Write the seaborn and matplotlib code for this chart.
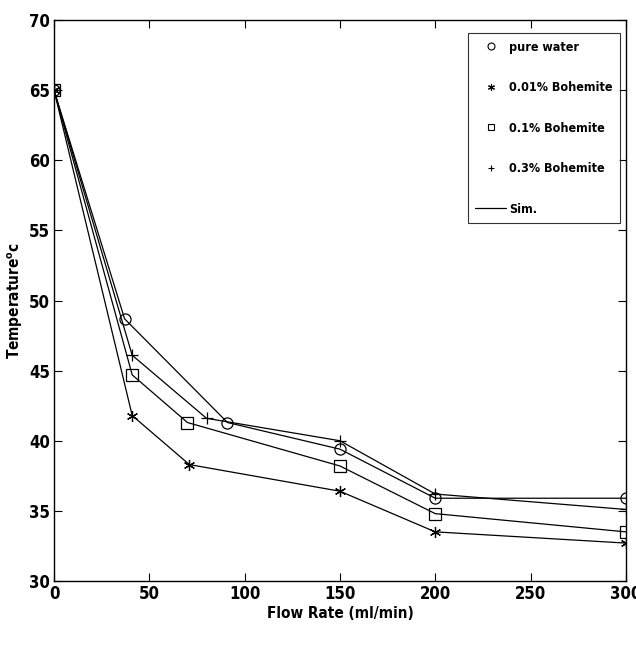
import numpy as np
import pandas as pd
import matplotlib
matplotlib.use('Agg')
import matplotlib.pyplot as plt
from matplotlib.lines import Line2D
import seaborn as sns

# values
pure_x = [0, 37, 91, 150, 200, 300]
pure_y = [65.0, 48.7, 41.3, 39.4, 35.9, 35.9]

b001_x = [0, 41, 71, 150, 200, 300]
b001_y = [65.0, 41.8, 38.3, 36.4, 33.5, 32.7]

b01_x = [0, 41, 70, 150, 200, 300]
b01_y = [65.0, 44.7, 41.3, 38.2, 34.8, 33.5]

b03_x = [0, 41, 80, 150, 200, 300]
b03_y = [65.0, 46.1, 41.6, 40.0, 36.2, 35.1]

series_names = ['pure water', '0.01% Bohemite', '0.1% Bohemite', '0.3% Bohemite']
series_markers = ['o', (6, 2, 0), 's', '+']
x_ticks = [0, 50, 100, 150, 200, 250, 300]
y_ticks = [30, 35, 40, 45, 50, 55, 60, 65, 70]

frames = []
for name, xs, ys in zip(series_names,
                        [pure_x, b001_x, b01_x, b03_x],
                        [pure_y, b001_y, b01_y, b03_y]):
    frames.append(pd.DataFrame({'flow': xs, 'temp': ys, 'series': name}))
df = pd.concat(frames, ignore_index=True)

sns.set_style('ticks')
plt.rcParams['font.family'] = ['DejaVu Sans']
plt.rcParams['font.stretch'] = 'condensed'
plt.rcParams['font.weight'] = 'bold'
plt.rcParams['text.color'] = 'black'
plt.rcParams['xtick.color'] = 'black'
plt.rcParams['ytick.color'] = 'black'
plt.rcParams['axes.labelcolor'] = 'black'

fig = plt.figure(figsize=(6.36, 6.52), dpi=100)
ax = fig.add_axes([0.085, 0.109, 0.899, 0.860])

for name, mk in zip(series_names, series_markers):
    sub = df[df['series'] == name]
    sns.lineplot(data=sub, x='flow', y='temp', color='black', linewidth=0.9,
                 marker=mk, markersize=8, markerfacecolor='none',
                 markeredgecolor='black', markeredgewidth=0.9,
                 sort=False, estimator=None, legend=False, ax=ax)

ax.set_xlim(0, 300)
ax.set_ylim(30, 70)
ax.set_xticks(x_ticks)
ax.set_yticks(y_ticks)
ax.tick_params(direction='in', top=True, right=True, length=6, width=0.8, labelsize=12, pad=3)
for s in ax.spines.values():
    s.set_visible(True)
    s.set_linewidth(1.0)
    s.set_color('black')

ax.set_xlabel('Flow Rate (ml/min)', fontsize=11, fontweight='bold', labelpad=2)
ax.set_ylabel(r'Temperature$\mathregular{^o}$c', fontsize=11, fontweight='bold', labelpad=3)

handles = [Line2D([], [], linestyle='none', marker=m, color='black', markerfacecolor='none',
                  markersize=5, markeredgewidth=0.8) for m in series_markers]
handles.append(Line2D([], [], color='black', linewidth=0.9))
leg = ax.legend(handles, series_names + ['Sim.'], loc='upper right', fontsize=9,
                frameon=True, fancybox=False, edgecolor='black', handlelength=2.5,
                handletextpad=0.2, labelspacing=2.2, borderpad=0.6, borderaxespad=0,
                bbox_to_anchor=(0.9895, 0.977))
leg.get_frame().set_linewidth(0.8)

fig.savefig('out.png', dpi=100)
